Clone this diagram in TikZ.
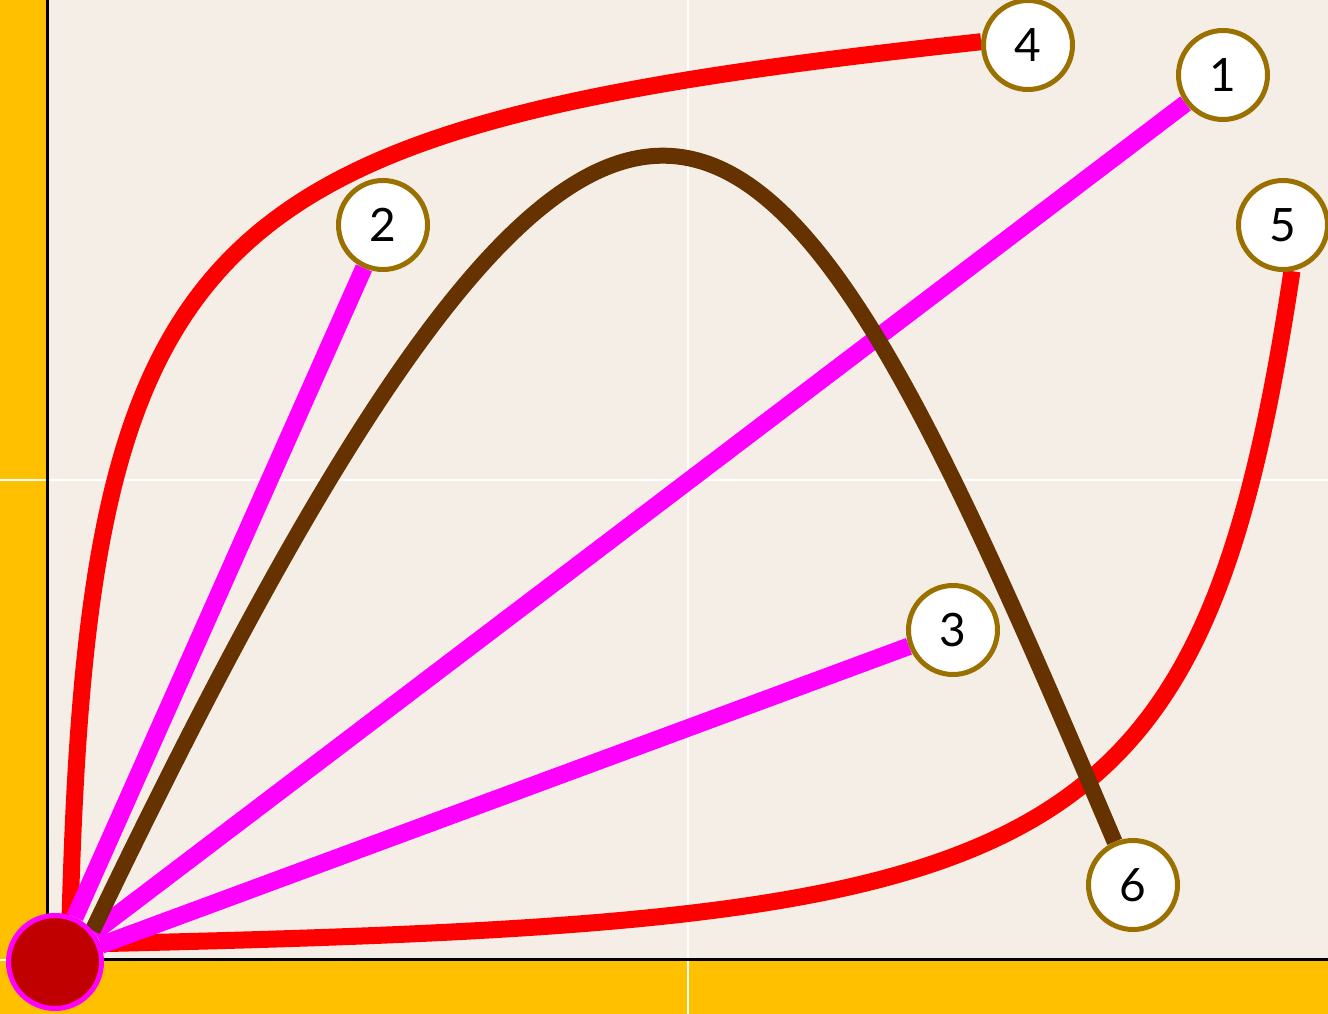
\documentclass[tikz,border=0pt]{standalone}
\usepackage{fontspec}
\setmainfont{Lato}
\definecolor{bgc}{HTML}{F5EEE6}
\definecolor{yellowc}{HTML}{FFC000}
\definecolor{magentac}{HTML}{FF00FF}
\definecolor{redc}{HTML}{FF0000}
\definecolor{brownc}{HTML}{663300}
\definecolor{nodeborder}{HTML}{9A7000}
\definecolor{origfill}{HTML}{C00000}
\pgfdeclarelayer{bglayer}
\pgfdeclarelayer{edgelayer}
\pgfsetlayers{bglayer,edgelayer,main}
\begin{document}
\begin{tikzpicture}[x=1pt,y=1pt,
  numnode/.style={circle, fill=white, draw=nodeborder, line width=5pt, minimum size=89pt, inner sep=0pt, font=\fontsize{46}{46}\selectfont},
  orignode/.style={circle, fill=origfill, draw=magentac, line width=5pt, minimum size=93pt, inner sep=0pt},
  magline/.style={draw=magentac, line width=17.5pt},
  redline/.style={draw=redc, line width=17pt},
  brownline/.style={draw=brownc, line width=16pt},
  gridline/.style={draw=white, line width=2.5pt},
  axisline/.style={draw=black, line width=3pt}]
\useasboundingbox (0,0) rectangle (1328,-1014);
\begin{pgfonlayer}{bglayer}
\fill[bgc] (0,0) rectangle (1328,-1014);
\fill[yellowc] (0,0) rectangle (47,-1014);
\fill[yellowc] (0,-960) rectangle (1328,-1014);
\draw[gridline] (688,0) -- (688,-1014);
\draw[gridline] (0,-480) -- (1328,-480);
\draw[gridline] (0,-960) -- (1328,-960);
\draw[axisline] (47.5,0) -- (47.5,-959.5) -- (1328,-959.5);
\end{pgfonlayer}

\node[orignode] (o) at (55,-962) {};
\node[numnode] (n1) at (1223,-75) {1};
\node[numnode] (n2) at (383,-225) {2};
\node[numnode] (n3) at (953,-630) {3};
\node[numnode] (n4) at (1028,-45) {4};
\node[numnode] (n5) at (1283,-225) {5};
\node[numnode] (n6) at (1133,-885) {6};

\begin{pgfonlayer}{edgelayer}
\draw[redline] (o.72) .. controls (89,-214) and (206,-126) .. (n4.176);
\draw[redline] (o.22) .. controls (1050,-922) and (1200,-880) .. (n5.-79);
\draw[magline] (o) -- (n2);
\draw[magline] (o) -- (n1);
\draw[magline] (o) -- (n3);
\draw[brownline] (o.40) .. controls (640,214) and (775,-42) .. (n6.113);
\end{pgfonlayer}
\end{tikzpicture}
\end{document}
